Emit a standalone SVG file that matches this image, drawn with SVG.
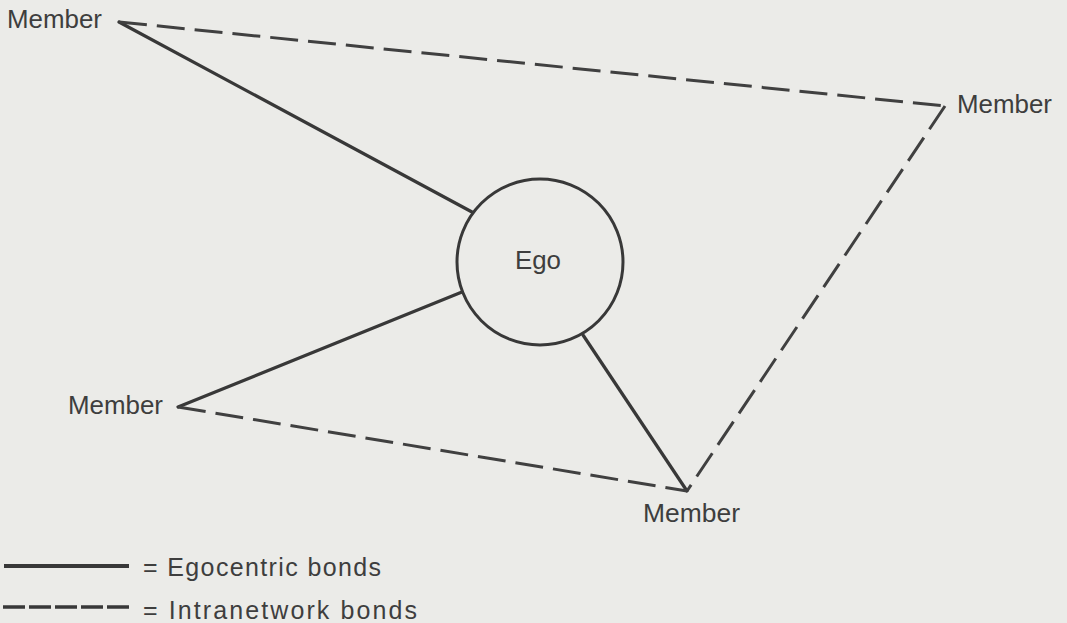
<svg xmlns="http://www.w3.org/2000/svg" width="1067" height="623" viewBox="0 0 1067 623">
  <style>
    .lbl { font-family: "Liberation Sans", Arial, sans-serif; font-size: 25px; fill: #3e3e3e; }
    .leg { font-family: "Liberation Sans", Arial, sans-serif; font-size: 25px; fill: #3e3e3e; }
    .solid { stroke: #383838; stroke-width: 3.2; fill: none; stroke-linecap: round; }
    .dash { stroke: #404040; stroke-width: 3; fill: none; stroke-dasharray: 28 10; }
  </style>
  <rect width="1067" height="623" fill="#ebebe8"/>
  <g id="connectors">
    <line class="solid" x1="119" y1="22" x2="472" y2="212"/>
    <line class="solid" x1="178" y1="407" x2="462" y2="292"/>
    <line class="solid" x1="583" y1="335" x2="687" y2="491"/>
    <line class="dash" x1="119" y1="22" x2="945" y2="106"/>
    <line class="dash" x1="945" y1="106" x2="687" y2="491"/>
    <line class="dash" x1="178" y1="407" x2="687" y2="491"/>
  </g>
  <g id="ego">
    <circle cx="540" cy="262" r="83" fill="none" stroke="#383838" stroke-width="3"/>
    <text class="lbl" x="515" y="269" font-size="26" textLength="46" lengthAdjust="spacingAndGlyphs">Ego</text>
  </g>
  <g id="member-top-left">
    <text class="lbl" x="7" y="28" textLength="95" lengthAdjust="spacingAndGlyphs">Member</text>
  </g>
  <g id="member-right">
    <text class="lbl" x="957" y="113" textLength="95" lengthAdjust="spacingAndGlyphs">Member</text>
  </g>
  <g id="member-left">
    <text class="lbl" x="68" y="414" textLength="95" lengthAdjust="spacingAndGlyphs">Member</text>
  </g>
  <g id="member-bottom">
    <text class="lbl" x="643" y="522" textLength="97" lengthAdjust="spacingAndGlyphs">Member</text>
  </g>
  <g id="legend">
    <line x1="4" y1="566" x2="129" y2="566" stroke="#383838" stroke-width="4"/>
    <text class="leg" x="143" y="576" textLength="238" lengthAdjust="spacing">= Egocentric bonds</text>
    <line x1="3" y1="607" x2="131" y2="607" stroke="#383838" stroke-width="3.5" stroke-dasharray="22 4"/>
    <text class="leg" x="143" y="619" textLength="274" lengthAdjust="spacing">= Intranetwork bonds</text>
  </g>
</svg>
